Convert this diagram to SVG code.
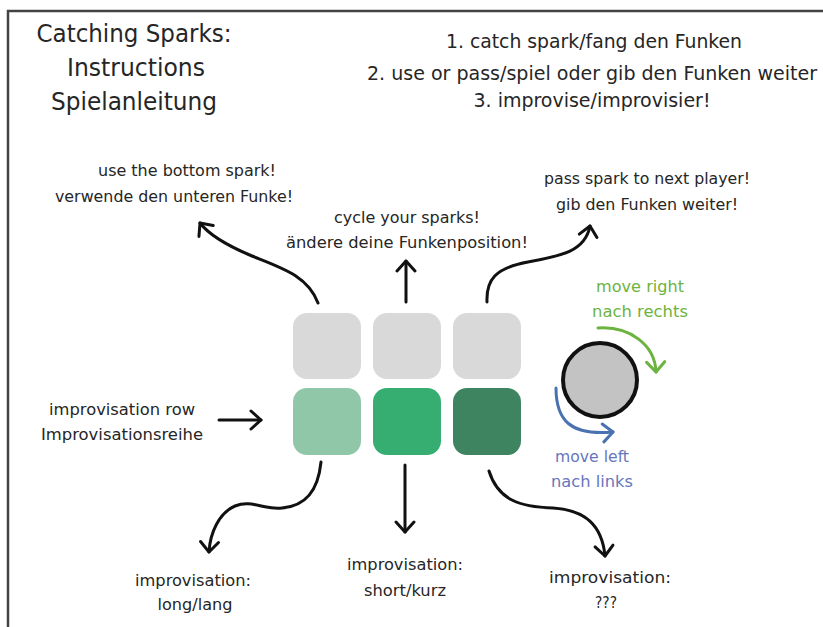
<svg xmlns="http://www.w3.org/2000/svg" width="823" height="627" viewBox="0 0 823 627">
  <style>
    text { font-family: "DejaVu Sans Condensed", "Liberation Sans Narrow", "Liberation Sans", sans-serif; fill: #262626; text-anchor: middle; }
    .title { font-size: 24px; }
    .step { font-size: 19px; }
    .lbl { font-size: 15.5px; }
    .green { fill: #6db33f; }
    .blue { fill: #6677bb; }
    .conn { fill: none; stroke: #111; stroke-width: 3; stroke-linecap: round; stroke-linejoin: round; }
    .tile { stroke: none; }
  </style>
  <defs>
    <marker id="head" viewBox="-12 -12 24 24" markerWidth="24" markerHeight="24" markerUnits="userSpaceOnUse" orient="auto" refX="0" refY="0">
      <path d="M-10,-9 L0,0 L-10,9" fill="none" stroke="#111" stroke-width="3" stroke-linecap="round" stroke-linejoin="round"/>
    </marker>
    <marker id="headGreen" viewBox="-12 -12 24 24" markerWidth="24" markerHeight="24" markerUnits="userSpaceOnUse" orient="auto" refX="0" refY="0">
      <path d="M-10,-9 L0,0 L-10,9" fill="none" stroke="#6db33f" stroke-width="3" stroke-linecap="round" stroke-linejoin="round"/>
    </marker>
    <marker id="headBlue" viewBox="-12 -12 24 24" markerWidth="24" markerHeight="24" markerUnits="userSpaceOnUse" orient="auto" refX="0" refY="0">
      <path d="M-10,-9 L0,0 L-10,9" fill="none" stroke="#4a72b0" stroke-width="3" stroke-linecap="round" stroke-linejoin="round"/>
    </marker>
  </defs>

  <rect width="823" height="627" fill="#ffffff"/>
  <!-- page frame: only the top and left edges fall inside the view -->
  <path d="M8,627 L8,11 L823,11" fill="none" stroke="#444" stroke-width="2.5"/>

  <g id="heading">
    <text class="title" x="134" y="42" textLength="195" lengthAdjust="spacingAndGlyphs">Catching Sparks:</text>
    <text class="title" x="136" y="76" textLength="138" lengthAdjust="spacingAndGlyphs">Instructions</text>
    <text class="title" x="134" y="110" textLength="166" lengthAdjust="spacingAndGlyphs">Spielanleitung</text>
  </g>

  <g id="steps">
    <text class="step" x="594" y="48" textLength="296" lengthAdjust="spacingAndGlyphs">1. catch spark/fang den Funken</text>
    <text class="step" x="592" y="80" textLength="450" lengthAdjust="spacingAndGlyphs">2. use or pass/spiel oder gib den Funken weiter</text>
    <text class="step" x="592" y="107" textLength="237" lengthAdjust="spacingAndGlyphs">3. improvise/improvisier!</text>
  </g>

  <g id="spark-grid">
    <rect class="tile" x="293" y="313" width="68" height="66" rx="14" fill="#d9d9d9"/>
    <rect class="tile" x="373" y="313" width="68" height="66" rx="14" fill="#d9d9d9"/>
    <rect class="tile" x="453" y="313" width="68" height="66" rx="14" fill="#d9d9d9"/>
    <rect class="tile" x="293" y="388" width="68" height="67" rx="14" fill="#8fc7a8"/>
    <rect class="tile" x="373" y="388" width="68" height="67" rx="14" fill="#36ae72"/>
    <rect class="tile" x="453" y="388" width="68" height="67" rx="14" fill="#3f8461"/>
  </g>

  <g id="label-use">
    <text class="lbl" x="187" y="176" textLength="178" lengthAdjust="spacingAndGlyphs">use the bottom spark!</text>
    <text class="lbl" x="174" y="202" textLength="238" lengthAdjust="spacingAndGlyphs">verwende den unteren Funke!</text>
  </g>

  <g id="label-cycle">
    <text class="lbl" x="407" y="223" textLength="146" lengthAdjust="spacingAndGlyphs">cycle your sparks!</text>
    <text class="lbl" x="407" y="248" textLength="242" lengthAdjust="spacingAndGlyphs">ändere deine Funkenposition!</text>
  </g>

  <g id="label-pass">
    <text class="lbl" x="647" y="184" textLength="206" lengthAdjust="spacingAndGlyphs">pass spark to next player!</text>
    <text class="lbl" x="647" y="210" textLength="182" lengthAdjust="spacingAndGlyphs">gib den Funken weiter!</text>
  </g>

  <g id="label-row">
    <text class="lbl" x="122" y="415" textLength="146" lengthAdjust="spacingAndGlyphs">improvisation row</text>
    <text class="lbl" x="122" y="440" textLength="162" lengthAdjust="spacingAndGlyphs">Improvisationsreihe</text>
  </g>

  <g id="label-long">
    <text class="lbl" x="193" y="586" textLength="116" lengthAdjust="spacingAndGlyphs">improvisation:</text>
    <text class="lbl" x="195" y="610" textLength="75" lengthAdjust="spacingAndGlyphs">long/lang</text>
  </g>

  <g id="label-short">
    <text class="lbl" x="405" y="570" textLength="116" lengthAdjust="spacingAndGlyphs">improvisation:</text>
    <text class="lbl" x="405" y="596" textLength="82" lengthAdjust="spacingAndGlyphs">short/kurz</text>
  </g>

  <g id="label-unknown">
    <text class="lbl" x="610" y="583" textLength="122" lengthAdjust="spacingAndGlyphs">improvisation:</text>
    <text class="lbl" x="606" y="608" textLength="22" lengthAdjust="spacingAndGlyphs">???</text>
  </g>

  <g id="token">
    <circle cx="600" cy="380" r="37" fill="#c3c3c3" stroke="#111" stroke-width="4"/>
  </g>

  <g id="label-right">
    <text class="lbl green" x="640" y="292" textLength="88" lengthAdjust="spacingAndGlyphs">move right</text>
    <text class="lbl green" x="640" y="317" textLength="96" lengthAdjust="spacingAndGlyphs">nach rechts</text>
  </g>

  <g id="label-left">
    <text class="lbl blue" x="592" y="462" textLength="74" lengthAdjust="spacingAndGlyphs">move left</text>
    <text class="lbl blue" x="592" y="487" textLength="82" lengthAdjust="spacingAndGlyphs">nach links</text>
  </g>

  <g id="connectors">
    <path class="conn" marker-end="url(#head)" d="M318,303 C308,276 282,268 252,256 C228,246 210,236 200,223"/>
    <path class="conn" marker-end="url(#head)" d="M406,302 L406,261"/>
    <path class="conn" marker-end="url(#head)" d="M487,302 C486,280 495,268 528,262 C560,256 585,252 590,226"/>
    <path class="conn" marker-end="url(#head)" d="M219,420 L261,420"/>
    <path class="conn" marker-end="url(#head)" d="M321,462 C318,492 305,506 282,508 C262,510 252,499 235,506 C219,513 210,533 209,552"/>
    <path class="conn" marker-end="url(#head)" d="M405,465 L405,532"/>
    <path class="conn" marker-end="url(#head)" d="M489,471 C498,500 520,507 553,508 C585,510 602,525 605,556"/>
    <path class="conn" style="stroke:#6db33f" marker-end="url(#headGreen)" d="M598,328 C630,326 655,345 656,372"/>
    <path class="conn" style="stroke:#4a72b0" marker-end="url(#headBlue)" d="M556,388 C556,420 570,436 613,432"/>
  </g>
</svg>
